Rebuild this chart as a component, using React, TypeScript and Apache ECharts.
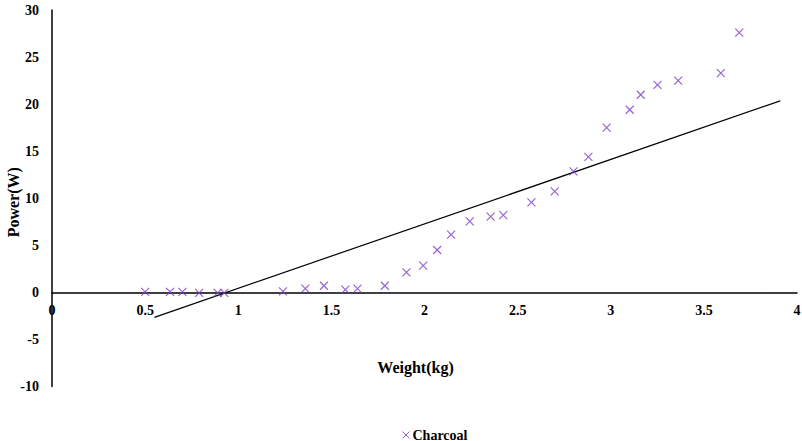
import React, { useEffect, useRef } from "react";
import * as echarts from "echarts";

const weights = [0.5, 0.634, 0.7, 0.79, 0.889, 0.925, 1.24, 1.36, 1.46, 1.575, 1.64, 1.787, 1.903, 1.993, 2.068, 2.143, 2.243, 2.355, 2.423, 2.574, 2.699, 2.8, 2.88, 2.978, 3.102, 3.161, 3.251, 3.362, 3.591, 3.69];
const powers = [0.05, 0.05, 0.05, -0.05, -0.05, -0.05, 0.1, 0.4, 0.7, 0.3, 0.4, 0.7, 2.13, 2.84, 4.5, 6.13, 7.55, 8.04, 8.2, 9.56, 10.73, 12.85, 14.4, 17.5, 19.4, 21.0, 22.05, 22.5, 23.3, 27.6];
const trendX = [0.55, 3.91];
const trendY = [-2.65, 20.35];
const seriesName = "Charcoal";
const xTitle = "Weight(kg)";
const yTitle = "Power(W)";

const FONT = "'Liberation Serif', 'Times New Roman', serif";
const PURPLE = "#7B3FC4";
const CROSS = "path://M0,0L10,10M10,0L0,10";

const GRID_TOP = 10;
const GRID_BOTTOM = 54.5;
const Y_MIN = -10;
const Y_MAX = 30;

export default function App() {
  const ref = useRef<HTMLDivElement>(null);
  useEffect(() => {
    if (!ref.current) return;
    const chart = echarts.init(ref.current, undefined, { renderer: "svg" });
    const gridH = 441 - GRID_TOP - GRID_BOTTOM;
    const zeroOffset = (gridH * (0 - Y_MIN)) / (Y_MAX - Y_MIN);
    chart.setOption({
      animation: false,
      backgroundColor: "#fff",
      textStyle: { fontFamily: FONT },
      grid: { left: 52, right: 5, top: GRID_TOP, bottom: GRID_BOTTOM, containLabel: false, outerBoundsMode: "none" },
      legend: {
        data: [{ name: seriesName, icon: CROSS }],
        left: 397,
        top: 423,
        itemWidth: 7,
        itemHeight: 7,
        itemGap: 4,
        textStyle: { fontFamily: FONT, fontWeight: "bold", fontSize: 14, color: "#000", padding: [0, 0, 0, -2] },
        itemStyle: { color: "transparent", borderColor: PURPLE, borderWidth: 1 },
      },
      xAxis: {
        type: "value",
        min: 0,
        max: 4,
        interval: 0.5,
        position: "bottom",
        offset: -zeroOffset,
        name: xTitle,
        nameLocation: "middle",
        nameGap: 67,
        nameMoveOverlap: false,
        nameTextStyle: { fontFamily: FONT, fontWeight: "bold", fontSize: 16, color: "#000", padding: [0, 18, 0, 0] },
        axisLine: { onZero: false, lineStyle: { color: "#000", width: 1.5 } },
        axisTick: { show: false },
        splitLine: { show: false },
        axisLabel: { fontFamily: FONT, fontWeight: "bold", fontSize: 14, color: "#000", margin: 11, showMaxLabel: true, showMinLabel: true },
      },
      yAxis: {
        type: "value",
        min: Y_MIN,
        max: Y_MAX,
        interval: 5,
        name: yTitle,
        nameLocation: "middle",
        nameGap: 31,
        nameMoveOverlap: false,
        nameRotate: 90,
        nameTextStyle: { fontFamily: FONT, fontWeight: "bold", fontSize: 16, color: "#000", padding: [0, 8, 0, 0] },
        axisLine: { show: true, onZero: false, lineStyle: { color: "#000", width: 1.5 } },
        axisTick: { show: false },
        splitLine: { show: false },
        axisLabel: { fontFamily: FONT, fontWeight: "bold", fontSize: 14, color: "#000", margin: 13 },
      },
      series: [
        {
          name: seriesName,
          type: "scatter",
          symbol: CROSS,
          symbolSize: 8,
          itemStyle: { color: "transparent", borderColor: PURPLE, borderWidth: 1.2 },
          data: weights.map((w, i) => [w, powers[i]]),
          z: 3,
        },
        {
          name: "trend",
          type: "line",
          symbol: "none",
          silent: true,
          lineStyle: { color: "#000", width: 1.2 },
          data: trendX.map((x, i) => [x, trendY[i]]),
          z: 2,
        },
      ],
    });
    return () => chart.dispose();
  }, []);
  return <div ref={ref} style={{ width: 802, height: 441, position: "absolute", left: 0, top: 0 }} />;
}
